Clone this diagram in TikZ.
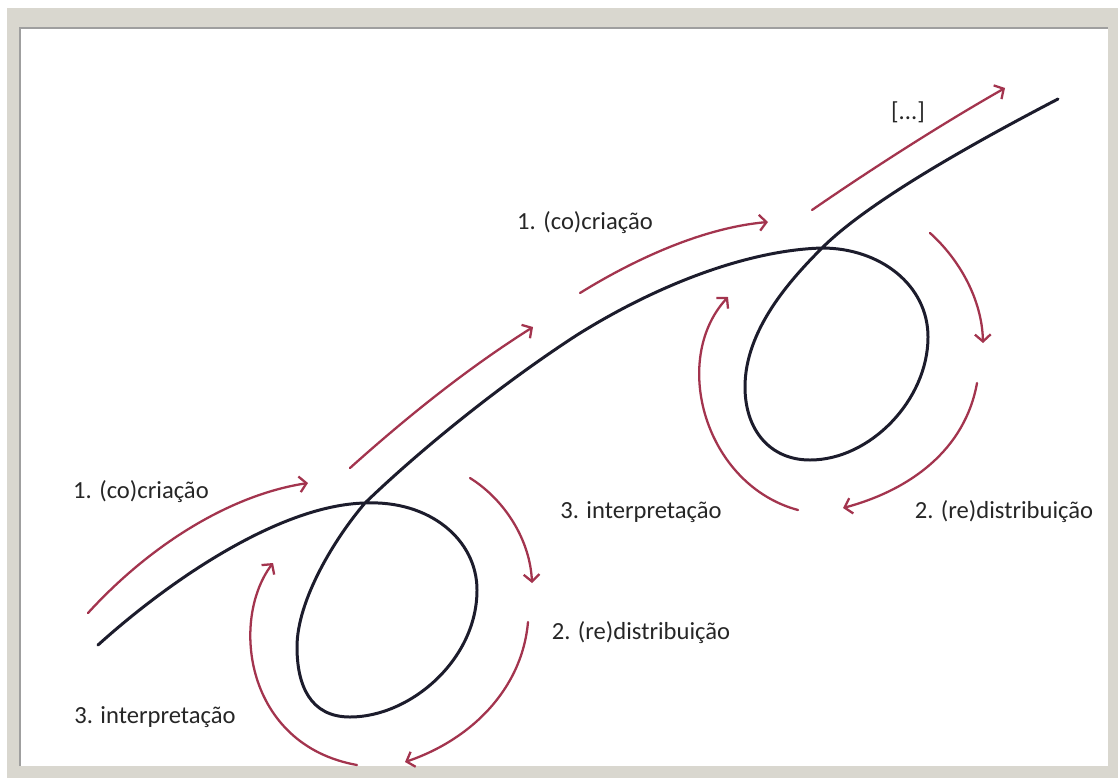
\documentclass[tikz,border=0pt]{standalone}
\usepackage{fontspec}
\setmainfont{Carlito}
\usepackage{tikz}
\usetikzlibrary{arrows.meta}
\definecolor{vinho}{RGB}{163,52,78}
\definecolor{tinta}{RGB}{28,28,44}
\definecolor{moldura}{RGB}{217,215,207}

\begin{document}
\begin{tikzpicture}[x=0.02cm,y=-0.02cm,
	linha/.style={tinta,line width=1.7pt,line cap=round},
	seta/.style={vinho,line width=1.3pt,line cap=round,-{Straight Barb[length=4pt,width=9pt]}},
	rotulo/.style={font=\fontsize{14}{16}\selectfont,text=black!85,inner sep=0pt}]
	\fill[white] (0,0) rectangle (1118,778);
	\useasboundingbox (0,0) rectangle (1118,778);
	
	\fill[moldura] (7,8) rectangle (1118,778);
	\fill[white] (20,28) rectangle (1108,766);
	\draw[gray!75,line width=0.8pt] (20,766) -- (20,28) -- (1108,28);
	
	\draw[linha] (98,645) .. controls (170,580) and (280,505) .. (365,503)
		.. controls (430,500) and (477,540) .. (477,590)
		.. controls (477,660) and (410,717) .. (350,717)
		.. controls (310,717) and (297,685) .. (297,647)
		.. controls (297,600) and (335,538) .. (365,503)
		.. controls (420,450) and (500,385) .. (577,335)
		.. controls (660,283) and (750,250) .. (822,248)
		.. controls (880,248) and (928,285) .. (928,337)
		.. controls (928,400) and (870,460) .. (810,460)
		.. controls (770,460) and (745,430) .. (745,387)
		.. controls (745,330) and (790,280) .. (822,248)
		.. controls (865,205) and (960,150) .. (1058,99);
	
	\draw[seta] (88,613) .. controls (150,545) and (230,495) .. (308,483);
	\draw[seta] (350,468) .. controls (408,416) and (468,368) .. (533,327);
	\draw[seta] (580,293) .. controls (630,262) and (700,228) .. (768,222);
	\draw[seta] (812,210) .. controls (870,170) and (940,125) .. (1005,88);
	
	\draw[seta] (470,478) .. controls (505,500) and (530,540) .. (532,583);
	\draw[seta] (528,622) .. controls (522,690) and (470,740) .. (405,762);
	\draw[seta] (357,765) .. controls (245,745) and (230,620) .. (273,563);
	
	\draw[seta] (930,233) .. controls (960,260) and (982,300) .. (983,343);
	\draw[seta] (977,383) .. controls (965,450) and (910,490) .. (843,508);
	\draw[seta] (798,510) .. controls (705,485) and (670,360) .. (728,297);
	
	\node[rotulo] (criacaoA) at (141,492) {1. (co)criação};
	\node[rotulo] (interpA) at (155,717) {3. interpretação};
	\node[rotulo] (distribA) at (641,633) {2. (re)distribuição};
	\node[rotulo] (interpB) at (641,512) {3. interpretação};
	\node[rotulo] (distribB) at (1004,512) {2. (re)distribuição};
	\node[rotulo] (criacaoB) at (585,223) {1. (co)criação};
	\node[rotulo] (reticencias) at (908,112) {[...]};
\end{tikzpicture}
\end{document}
